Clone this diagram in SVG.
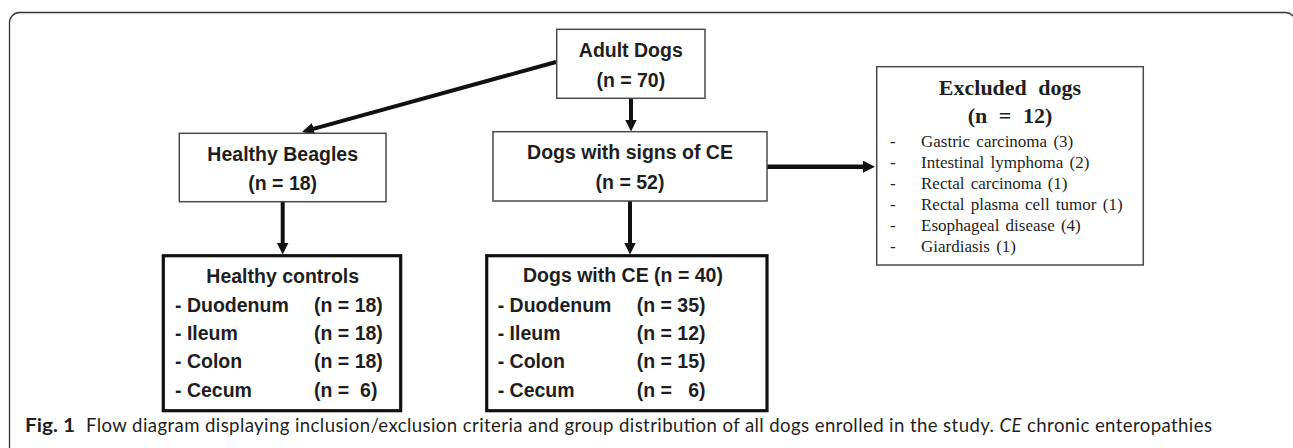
<svg xmlns="http://www.w3.org/2000/svg" width="1293" height="448" viewBox="0 0 1293 448">
<style>
.box{fill:#fff;stroke:#4a4a4a;stroke-width:1.5}
.boxb{fill:#fff;stroke:#111;stroke-width:3.2}
.t{font-family:"Liberation Sans",Arial,sans-serif;font-weight:bold;font-size:19.5px;fill:#1e1e1e}
.c{text-anchor:middle}
.tr{font-family:"Liberation Serif","Times New Roman",serif;fill:#1e1e1e}
.h{font-weight:bold;font-size:22px;word-spacing:6px;text-anchor:middle}
.li{font-size:17px;word-spacing:2px}
.pre{white-space:pre}
.cap{font-family:Lato,"Open Sans",sans-serif;font-size:18.6px;fill:#231f20}
.arr{stroke:#111;stroke-width:4;fill:none;marker-end:url(#ah)}
</style>
<defs>
<marker id="ah" markerUnits="userSpaceOnUse" markerWidth="14" markerHeight="13" refX="4" refY="6" orient="auto">
<path d="M0,0 L12,6 L0,12 Z" fill="#111"/>
</marker>
</defs>
<rect x="9.5" y="12.5" width="1286" height="470" rx="10" ry="10" fill="none" stroke="#333" stroke-width="1.3"/>

<g id="connectors">
<line class="arr" x1="556" y1="62" x2="309.7" y2="129.9"/>
<line class="arr" x1="631" y1="98" x2="631" y2="123.5"/>
<line class="arr" x1="282.7" y1="201.7" x2="282.7" y2="246.5"/>
<line class="arr" x1="630" y1="201" x2="630" y2="246.5"/>
<line class="arr" x1="767" y1="166.7" x2="867" y2="166.7" style="stroke-width:4.5"/>
</g>

<g id="adult-dogs">
<rect class="box" x="556.7" y="29.3" width="148.3" height="69"/>
<text class="t c" x="630.8" y="56.7">Adult Dogs</text>
<text class="t c" x="630.8" y="87">(n = 70)</text>
</g>

<g id="healthy-beagles">
<rect class="box" x="179.3" y="133.3" width="206.7" height="68.4"/>
<text class="t c" x="282.7" y="161">Healthy Beagles</text>
<text class="t c" x="282.7" y="190">(n = 18)</text>
</g>

<g id="dogs-signs-ce">
<rect class="box" x="493" y="131.7" width="274" height="69.3"/>
<text class="t c" x="630" y="159">Dogs with signs of CE</text>
<text class="t c" x="630" y="189">(n = 52)</text>
</g>

<g id="excluded-dogs">
<rect class="box" x="876.7" y="66.7" width="266.6" height="198.3"/>
<text class="tr h" x="1010" y="95">Excluded dogs</text>
<text class="tr h" x="1010" y="123.3">(n = 12)</text>
<g class="tr li">
<text x="890" y="146.7">-</text><text x="921" y="146.7">Gastric carcinoma (3)</text>
<text x="890" y="168">-</text><text x="921" y="168">Intestinal lymphoma (2)</text>
<text x="890" y="189.2">-</text><text x="921" y="189.2">Rectal carcinoma (1)</text>
<text x="890" y="210.4">-</text><text x="921" y="210.4">Rectal plasma cell tumor (1)</text>
<text x="890" y="231.2">-</text><text x="921" y="231.2">Esophageal disease (4)</text>
<text x="890" y="252">-</text><text x="921" y="252">Giardiasis (1)</text>
</g>
</g>

<g id="healthy-controls">
<rect class="boxb" x="163.3" y="255.7" width="237.4" height="155"/>
<text class="t c" x="282.7" y="283">Healthy controls</text>
<text class="t" x="175" y="311.7">- Duodenum</text><text class="t pre" x="314" y="311.7">(n = 18)</text>
<text class="t" x="175" y="340">- Ileum</text><text class="t pre" x="314" y="340">(n = 18)</text>
<text class="t" x="175" y="368.4">- Colon</text><text class="t pre" x="314" y="368.4">(n = 18)</text>
<text class="t" x="175" y="396.7">- Cecum</text><text class="t pre" x="314" y="396.7">(n =  6)</text>
</g>

<g id="dogs-with-ce">
<rect class="boxb" x="486.7" y="255.7" width="280.3" height="155"/>
<text class="t" x="523" y="282">Dogs with CE (n = 40)</text>
<text class="t" x="497.7" y="311.7">- Duodenum</text><text class="t pre" x="636.7" y="311.7">(n = 35)</text>
<text class="t" x="497.7" y="340">- Ileum</text><text class="t pre" x="636.7" y="340">(n = 12)</text>
<text class="t" x="497.7" y="368.4">- Colon</text><text class="t pre" x="636.7" y="368.4">(n = 15)</text>
<text class="t" x="497.7" y="396.7">- Cecum</text><text class="t pre" x="636.7" y="396.7">(n =   6)</text>
</g>

<g id="caption">
<text class="cap" x="25" y="432" font-weight="bold" font-size="19.5" textLength="50" lengthAdjust="spacingAndGlyphs">Fig. 1</text>
<text class="cap" x="86" y="432" textLength="1126" lengthAdjust="spacing">Flow diagram displaying inclusion/exclusion criteria and group distribution of all dogs enrolled in the study. <tspan font-style="italic">CE</tspan> chronic enteropathies</text>
</g>
</svg>
